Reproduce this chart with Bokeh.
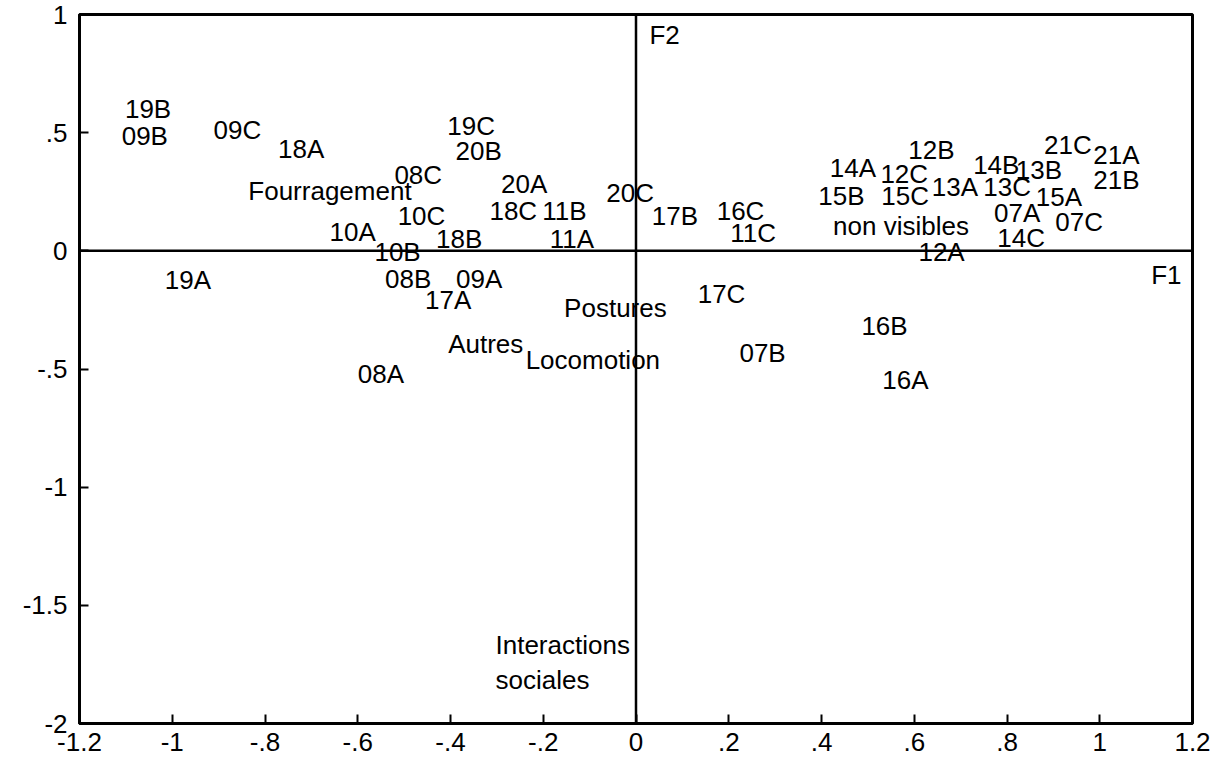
from bokeh.plotting import figure
from bokeh.models import ColumnDataSource, Range1d, FixedTicker, Span
from bokeh.core.properties import value
from bokeh.embed import file_html
from bokeh.resources import INLINE

# ---- data (left edge of each label, factorial coordinates F1 / F2) ----
labels = ["19B", "09B", "09C", "18A", "Fourragement", "10A", "19A",
          "19C", "20B", "08C", "20A", "20C", "10C", "18C", "11B",
          "17B", "16C", "11C", "18B", "11A", "10B", "08B", "09A",
          "17C", "17A", "Postures", "Autres", "Locomotion", "07B", "08A",
          "16B", "16A", "12B", "21C", "21A", "14A", "12C", "14B", "13B",
          "21B", "15B", "15C", "13A", "13C", "15A", "07A", "07C",
          "non visibles", "14C", "12A", "Interactions\nsociales"]
f1 = [-1.102, -1.109, -0.911, -0.772, -0.836, -0.661, -1.016,
      -0.407, -0.389, -0.521, -0.291, -0.064, -0.514, -0.316, -0.202,
      0.034, 0.174, 0.203, -0.431, -0.186, -0.564, -0.541, -0.388,
      0.133, -0.455, -0.155, -0.405, -0.238, 0.223, -0.600,
      0.486, 0.531, 0.587, 0.880, 0.986, 0.418, 0.527, 0.727, 0.819,
      0.986, 0.393, 0.529, 0.638, 0.749, 0.862, 0.772, 0.904,
      0.425, 0.779, 0.609, -0.303]
f2 = [0.600, 0.487, 0.512, 0.431, 0.252, 0.078, -0.125,
      0.530, 0.422, 0.322, 0.281, 0.245, 0.148, 0.169, 0.169,
      0.148, 0.169, 0.075, 0.049, 0.052, -0.006, -0.120, -0.121,
      -0.184, -0.209, -0.240, -0.393, -0.463, -0.433, -0.520,
      -0.319, -0.546, 0.427, 0.449, 0.406, 0.350, 0.327, 0.365, 0.341,
      0.298, 0.234, 0.234, 0.270, 0.270, 0.227, 0.159, 0.123,
      0.106, 0.055, -0.005, -1.742]

axis_names = ["F1", "F2"]
axis_name_x = [1.111, 0.029]
axis_name_y = [-0.104, 0.913]

x_ticks = [-1.2, -1.0, -0.8, -0.6, -0.4, -0.2, 0.0, 0.2, 0.4, 0.6, 0.8, 1.0, 1.2]
x_tick_labels = ["-1.2", "-1", "-.8", "-.6", "-.4", "-.2", "0", ".2", ".4", ".6", ".8", "1", "1.2"]
y_ticks = [-2.0, -1.5, -1.0, -0.5, 0.0, 0.5, 1.0]
y_tick_labels = ["-2", "-1.5", "-1", "-.5", "0", ".5", "1"]

FONT = "Liberation Sans"

p = figure(width=1215, height=759, output_backend="svg", toolbar_location=None,
           x_range=Range1d(-1.2, 1.2), y_range=Range1d(-2, 1))
p.min_border_left = 79
p.min_border_right = 23
p.min_border_top = 14
p.min_border_bottom = 36
p.background_fill_color = "white"
p.border_fill_color = "white"
p.xgrid.visible = False
p.ygrid.visible = False
p.outline_line_color = "black"
p.outline_line_width = 3

for ax, ticks, labs in ((p.xaxis[0], x_ticks, x_tick_labels), (p.yaxis[0], y_ticks, y_tick_labels)):
    ax.ticker = FixedTicker(ticks=ticks)
    ax.major_label_overrides = {t: l for t, l in zip(ticks, labs)}
    ax.axis_line_width = 3
    ax.axis_line_color = "black"
    ax.major_tick_in = 9
    ax.major_tick_out = 0
    ax.major_tick_line_width = 2
    ax.minor_tick_line_color = None
    ax.major_label_text_font = FONT
    ax.major_label_text_font_size = "26px"
    ax.major_label_text_color = "black"
p.xaxis.major_label_standoff = 9
p.yaxis.major_label_standoff = 12

p.add_layout(Span(location=0, dimension="height", line_color="black", line_width=2.5))
p.add_layout(Span(location=0, dimension="width", line_color="black", line_width=2.5))

src = ColumnDataSource(dict(x=f1, y=f2, text=labels))
p.text(x="x", y="y", text="text", source=src, text_font=value(FONT),
       text_font_size="26px", text_align="left", text_baseline="middle",
       text_color="black", text_line_height=1.15)

src2 = ColumnDataSource(dict(x=axis_name_x, y=axis_name_y, text=axis_names))
p.text(x="x", y="y", text="text", source=src2, text_font=value(FONT),
       text_font_size="26px", text_align="left", text_baseline="middle",
       text_color="black")

open("out.html", "w").write(file_html(p, INLINE))
